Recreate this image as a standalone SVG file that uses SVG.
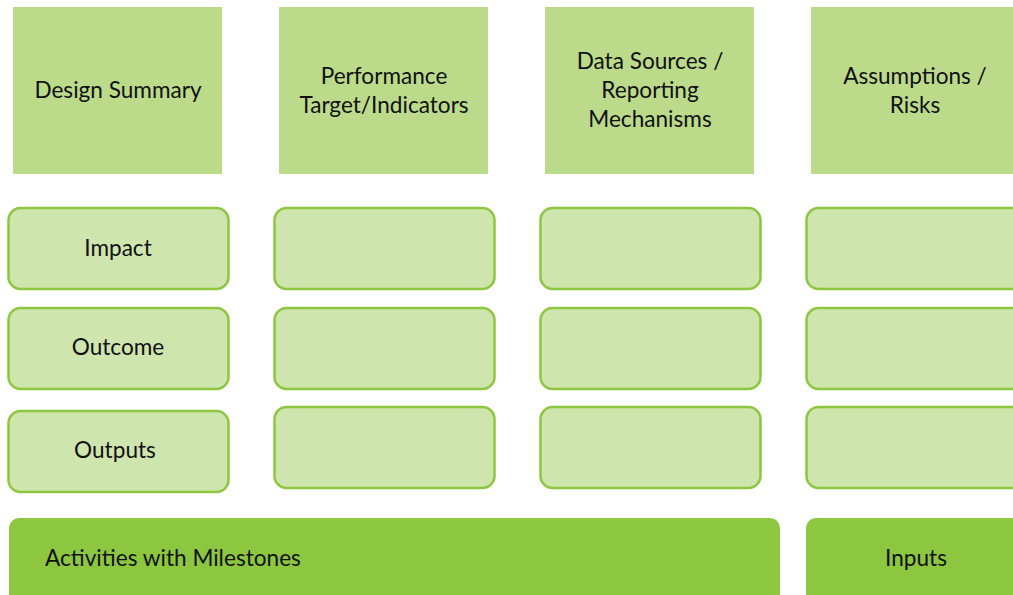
<svg xmlns="http://www.w3.org/2000/svg" width="1013" height="595" viewBox="0 0 1013 595">
<style>
.hdr{fill:#BBDB8B}
.cell{fill:#CFE5AE;stroke:#8DC63F;stroke-width:2.5}
.bar{fill:#8DC63F}
text{font-family:Lato,"Open Sans","Liberation Sans",sans-serif;font-size:22.6px;fill:#111;text-anchor:middle;dominant-baseline:central}
</style>
<rect width="1013" height="595" fill="#fff"/>
<g id="h1"><rect class="hdr" x="13" y="7" width="209" height="167"/><text x="118" y="89">Design Summary</text></g>
<g id="h2"><rect class="hdr" x="279" y="7" width="209" height="167"/><text x="384" y="75">Performance</text><text x="384" y="104">Target/Indicators</text></g>
<g id="h3"><rect class="hdr" x="545" y="7" width="209" height="167"/><text x="650" y="60">Data Sources /</text><text x="650" y="89">Reporting</text><text x="650" y="118">Mechanisms</text></g>
<g id="h4"><rect class="hdr" x="811" y="7" width="209" height="167"/><text x="915" y="75">Assumptions /</text><text x="915" y="104">Risks</text></g>
<g id="r1c1"><rect class="cell" x="8.5" y="208" width="220" height="81" rx="12"/><text x="118" y="247">Impact</text></g>
<g id="r1c2"><rect class="cell" x="274.5" y="208" width="220" height="81" rx="12"/></g>
<g id="r1c3"><rect class="cell" x="540.5" y="208" width="220" height="81" rx="12"/></g>
<g id="r1c4"><rect class="cell" x="806.5" y="208" width="220" height="81" rx="12"/></g>
<g id="r2c1"><rect class="cell" x="8.5" y="308" width="220" height="81" rx="12"/><text x="118" y="346">Outcome</text></g>
<g id="r2c2"><rect class="cell" x="274.5" y="308" width="220" height="81" rx="12"/></g>
<g id="r2c3"><rect class="cell" x="540.5" y="308" width="220" height="81" rx="12"/></g>
<g id="r2c4"><rect class="cell" x="806.5" y="308" width="220" height="81" rx="12"/></g>
<g id="r3c1"><rect class="cell" x="8.5" y="411" width="220" height="81" rx="12"/><text x="115" y="449">Outputs</text></g>
<g id="r3c2"><rect class="cell" x="274.5" y="407" width="220" height="81" rx="12"/></g>
<g id="r3c3"><rect class="cell" x="540.5" y="407" width="220" height="81" rx="12"/></g>
<g id="r3c4"><rect class="cell" x="806.5" y="407" width="220" height="81" rx="12"/></g>
<g id="activities"><rect class="bar" x="9" y="518" width="771" height="100" rx="10"/><text x="45" y="557" style="text-anchor:start">Activities with Milestones</text></g>
<g id="inputs"><rect class="bar" x="806" y="518" width="230" height="100" rx="10"/><text x="916" y="557">Inputs</text></g>
<g id="connectors"></g>
</svg>
